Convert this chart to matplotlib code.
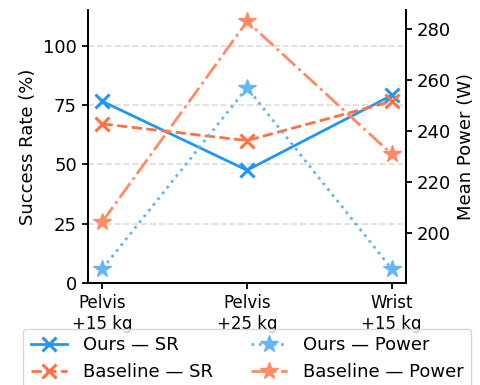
import numpy as np
import matplotlib
matplotlib.use('Agg')
from matplotlib import pyplot as plt

tasks = ['Pelvis\n+15 kg', 'Pelvis\n+25 kg', 'Wrist\n+15 kg']
ours_sr = [76.5, 47.5, 79.0]
base_sr = [67.0, 60.0, 76.5]
ours_power = [186.0, 257.0, 186.0]
base_power = [204.5, 283.0, 231.0]

blue = '#2196F3'
orange = '#FF7043'
blue_light = '#64B5F6'
orange_light = '#FF8A65'

x = np.arange(len(tasks))
fig = plt.figure(figsize=(4.8, 3.85), dpi=100)
ax = fig.add_axes([88 / 480, 1 - 283 / 385, 318 / 480, 273 / 385])
ax2 = ax.twinx()

l1, = ax.plot(x, ours_sr, color=blue, ls='-', marker='x', ms=10, mew=2.2, lw=2,
              label='Ours — SR')
l2, = ax.plot(x, base_sr, color=orange, ls='--', marker='x', ms=10, mew=2.2, lw=2,
              label='Baseline — SR')
l3, = ax2.plot(x, ours_power, color=blue_light, ls=':', marker='*', ms=13, lw=2,
               label='Ours — Power')
l4, = ax2.plot(x, base_power, color=orange_light, ls='-.', marker='*', ms=13, lw=2,
               label='Baseline — Power')

ax.set_xlim(-0.1, 2.1)
ax.set_ylim(0, 115)
ax.set_yticks([0, 25, 50, 75, 100])
ax.set_xticks(x)
ax.set_xticklabels(tasks, fontsize=12)
ax.tick_params(axis='y', labelsize=13)
ax.set_ylabel('Success Rate (%)', fontsize=13)
ax.yaxis.grid(True, ls='--', color='#dddddd', lw=1.2)
ax.set_axisbelow(True)

ax2.set_ylim(180.4, 287.5)
ax2.set_yticks([200, 220, 240, 260, 280])
ax2.tick_params(axis='y', labelsize=13)
ax2.set_ylabel('Mean Power (W)', fontsize=13)

for a in (ax, ax2):
    a.spines['top'].set_visible(False)
    for s in ('left', 'right', 'bottom'):
        a.spines[s].set_linewidth(1.3)
    a.tick_params(width=1.3, length=4.5)

fig.legend(handles=[l1, l2, l3, l4], ncol=2, loc='upper center',
           bbox_to_anchor=(0.515, 1 - 325 / 385), fontsize=13,
           handlelength=2.0, columnspacing=2.1, borderaxespad=0.2,
           handletextpad=0.9)

fig.savefig('out.png', dpi=100)
